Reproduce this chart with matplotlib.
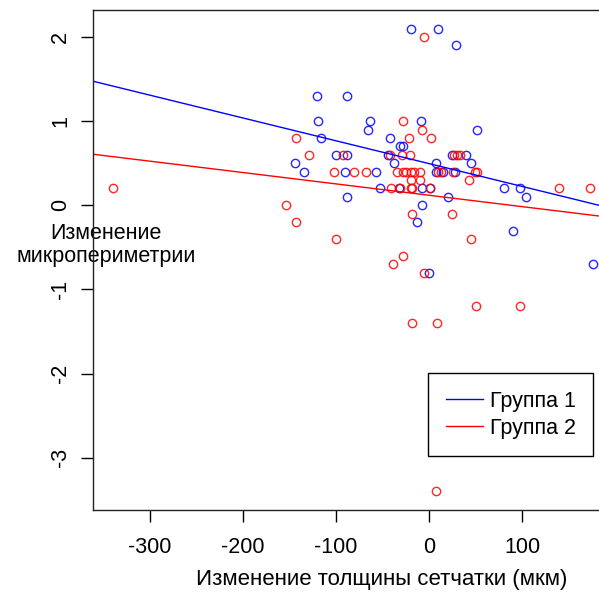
import numpy as np
import matplotlib
matplotlib.use("Agg")
from matplotlib import pyplot as plt

# Группа 1 (синие точки)
g1_x = [-120, -88, -119, -116, -100, -88, -144, -134, -90, -88,
        -20, 10, 29, -63, -66, -9, 51, -42, -31, -28,
        -44, -38, 25, 40, 7, 45, -57, 7, 15, 28,
        -53, -32, -8, 1, 20, 81, 98, 104, -8, -13,
        90, 0, 176]
g1_y = [1.3, 1.3, 1.0, 0.8, 0.6, 0.6, 0.5, 0.4, 0.4, 0.1,
        2.1, 2.1, 1.9, 1.0, 0.9, 1.0, 0.9, 0.8, 0.7, 0.7,
        0.6, 0.5, 0.6, 0.6, 0.5, 0.5, 0.4, 0.4, 0.4, 0.4,
        0.2, 0.2, 0.2, 0.2, 0.1, 0.2, 0.2, 0.1, 0.0, -0.2,
        -0.3, -0.8, -0.7]

# Группа 2 (красные точки)
g2_x = [-340, -143, -129, -93, -102, -154, -143, -100,
        -6, -28, -7.5, -22, 2.5, -42, -29, -21, 27, 30, 33,
        -81, -68, -34, -28, -25, -19, -16, -10, 10, 13, 26, 49, 51,
        43, -20, -10,
        -41, -31, -20, -18, 1, 140, 173,
        -18, 25, 45, -28, -39, -5, 50, 98, -18, 8, 7]
g2_y = [0.2, 0.8, 0.6, 0.6, 0.4, 0.0, -0.2, -0.4,
        2.0, 1.0, 0.9, 0.8, 0.8, 0.6, 0.6, 0.6, 0.6, 0.6, 0.6,
        0.4, 0.4, 0.4, 0.4, 0.4, 0.4, 0.4, 0.4, 0.4, 0.4, 0.4, 0.4, 0.4,
        0.3, 0.3, 0.3,
        0.2, 0.2, 0.2, 0.2, 0.2, 0.2, 0.2,
        -0.1, -0.1, -0.4, -0.6, -0.7, -0.8, -1.2, -1.2, -1.4, -1.4, -3.4]

# линии регрессии: y = a + b*x
fit_a = [0.495, 0.119]
fit_b = [-0.00271, -0.00135]
group_names = ['Группа 1', 'Группа 2']
group_colors = ['blue', 'red']

x_ticks = [-300, -200, -100, 0, 100]
y_ticks = [-3, -2, -1, 0, 1, 2]

plt.rcParams['font.family'] = ['Liberation Sans', 'DejaVu Sans']
plt.rcParams['axes.unicode_minus'] = False
fs = 15.5

W, H = 599, 593
fig = plt.figure(figsize=(W / 100, H / 100), dpi=100)
ax_l, ax_r, ax_t, ax_b = 92.7, 671, 10, 510
ax = fig.add_axes([ax_l / W, (H - ax_b) / H, (ax_r - ax_l) / W, (ax_b - ax_t) / H])

ax.plot(g1_x, g1_y, 'o', mfc='none', mec=group_colors[0], ms=6, mew=1.0, alpha=0.85)
ax.plot(g2_x, g2_y, 'o', mfc='none', mec=group_colors[1], ms=6, mew=1.0, alpha=0.85)

for a, b, c, name in zip(fit_a, fit_b, group_colors, group_names):
    ax.axline((0, a), slope=b, color=c, lw=1.0, label=name)

ax.set_xlim(-361.6, 260)
ax.set_ylim(-3.62, 2.32)
ax.set_xticks(x_ticks)
ax.set_yticks(y_ticks)
ax.tick_params(axis='both', direction='out', length=8.6, width=1.0, labelsize=fs, color='black')
ax.tick_params(axis='x', pad=11)
ax.tick_params(axis='y', pad=7, labelrotation=90)
for lab in ax.get_yticklabels():
    lab.set_va('center')
for s in ax.spines.values():
    s.set_linewidth(1.0)
    s.set_color('#222222')

ax.set_xlabel('Изменение толщины сетчатки (мкм)', fontsize=16)
ax.xaxis.set_label_coords(0.5003, (ax_b - 580) / (ax_b - ax_t))
ax.xaxis.label.set_va('center')

ax.set_ylabel('Изменение\nмикропериметрии', fontsize=fs, rotation=0,
              ha='center', va='center', linespacing=1.15)
ax.yaxis.set_label_coords((106 - ax_l) / (ax_r - ax_l), (ax_b - 245) / (ax_b - ax_t))

leg = ax.legend(loc='upper left', bbox_to_anchor=((428.3 - ax_l) / (ax_r - ax_l), (ax_b - 373.3) / (ax_b - ax_t)),
                borderaxespad=0, fancybox=False, edgecolor='black', framealpha=1,
                handlelength=1.75, handletextpad=0.3, borderpad=0.8, labelspacing=0.3, fontsize=fs)
leg.get_frame().set_linewidth(1.0)

fig.savefig('out.png', dpi=100)
